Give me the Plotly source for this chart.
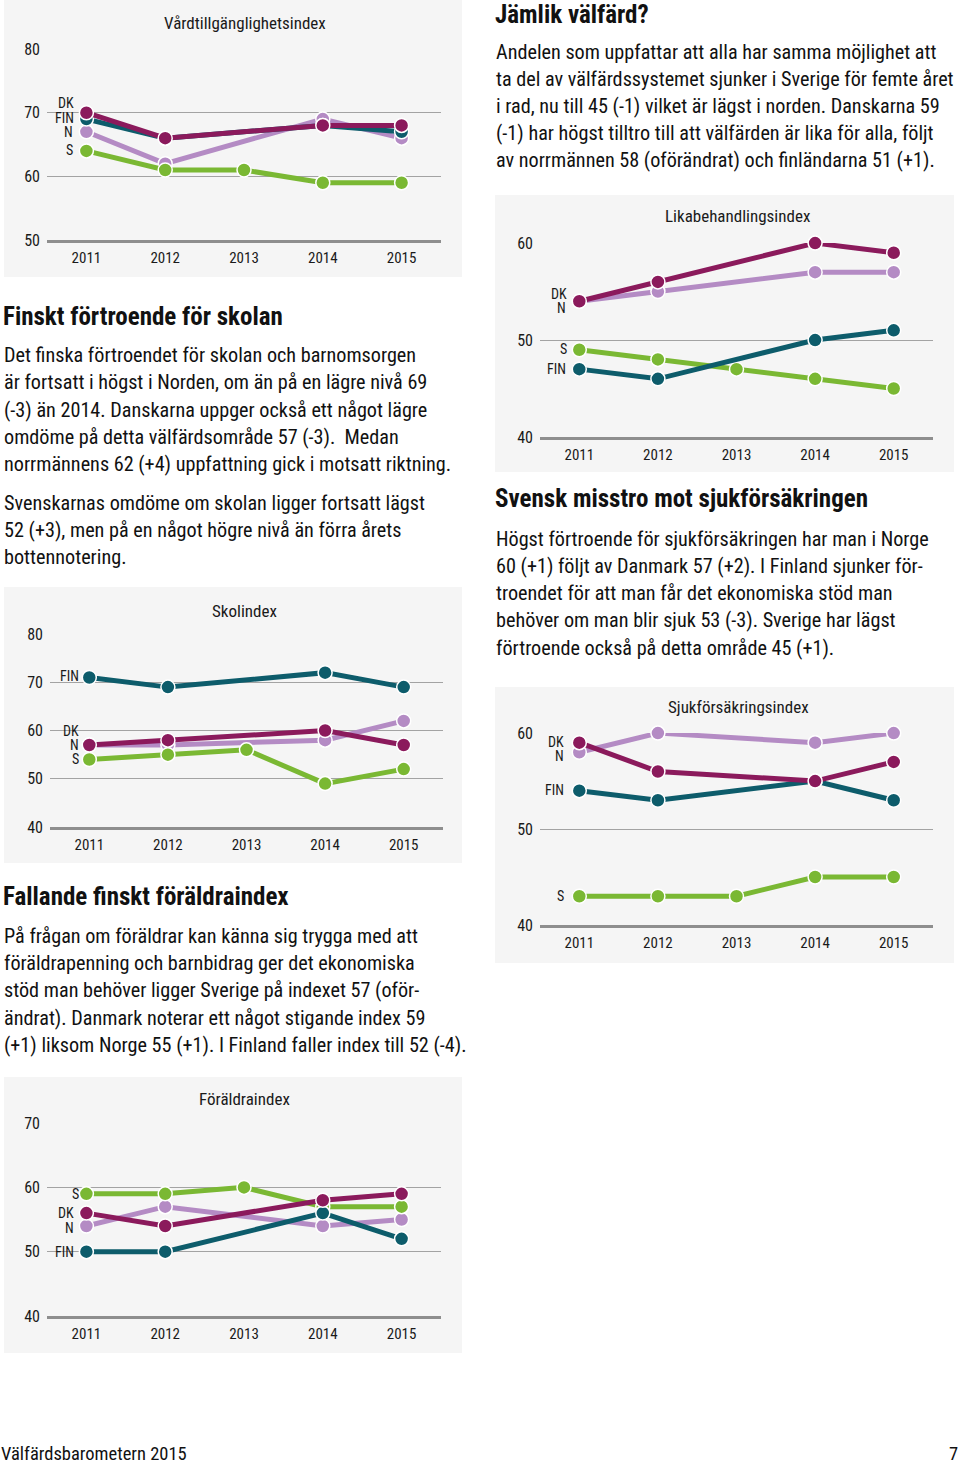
import plotly.graph_objects as go

W, H = 960, 1466
FONT = "Roboto Condensed, Liberation Sans Narrow, DejaVu Sans Condensed, Liberation Sans, sans-serif"

years = [2011, 2012, 2013, 2014, 2015]
countries = ["N", "S", "FIN", "DK"]
colors = {"DK": "#8b1a5c", "FIN": "#0d5c6b", "N": "#b48bc4", "S": "#7ab833"}

# Vårdtillgänglighetsindex
vard_DK = [70, 66, None, 68, 68]
vard_FIN = [69, 66, None, 68, 67]
vard_N = [67, 62, None, 69, 66]
vard_S = [64, 61, 61, 59, 59]
# Likabehandlingsindex
lika_DK = [54, 56, None, 60, 59]
lika_FIN = [47, 46, None, 50, 51]
lika_N = [54, 55, None, 57, 57]
lika_S = [49, 48, 47, 46, 45]
# Skolindex
skol_DK = [57, 58, None, 60, 57]
skol_FIN = [71, 69, None, 72, 69]
skol_N = [57, 57, None, 58, 62]
skol_S = [54, 55, 56, 49, 52]
# Sjukförsäkringsindex
sjuk_DK = [59, 56, None, 55, 57]
sjuk_FIN = [54, 53, None, 55, 53]
sjuk_N = [58, 60, None, 59, 60]
sjuk_S = [43, 43, 43, 45, 45]
# Föräldraindex
foral_DK = [56, 54, None, 58, 59]
foral_FIN = [50, 50, None, 56, 52]
foral_N = [54, 57, None, 54, 55]
foral_S = [59, 59, 60, 57, 57]

vard_ticks = [50, 60, 70, 80]
lika_ticks = [40, 50, 60]
skol_ticks = [40, 50, 60, 70, 80]
sjuk_ticks = [40, 50, 60]
foral_ticks = [40, 50, 60, 70]

charts = [
    dict(title="Vårdtillgänglighetsindex",
         data={"DK": vard_DK, "FIN": vard_FIN, "N": vard_N, "S": vard_S},
         ticks=vard_ticks, xdom=(47, 441), ydom=(49, 240), title_xy=(245, 23),
         panel=(4, 0, 462, 277),
         labels={"DK": (75, 103), "FIN": (75, 118), "N": (74, 132), "S": (74, 150)}),
    dict(title="Likabehandlingsindex",
         data={"DK": lika_DK, "FIN": lika_FIN, "N": lika_N, "S": lika_S},
         ticks=lika_ticks, xdom=(540, 933), ydom=(243, 437), title_xy=(737, 216),
         panel=(495, 195, 954, 472),
         labels={"DK": (568, 294), "N": (567, 308), "S": (568, 349), "FIN": (567, 369)}),
    dict(title="Skolindex",
         data={"DK": skol_DK, "FIN": skol_FIN, "N": skol_N, "S": skol_S},
         ticks=skol_ticks, xdom=(50, 443), ydom=(634, 827), title_xy=(245, 611),
         panel=(4, 587, 462, 863),
         labels={"FIN": (80, 676), "DK": (80, 731), "N": (80, 745), "S": (80, 759)}),
    dict(title="Sjukförsäkringsindex",
         data={"DK": sjuk_DK, "FIN": sjuk_FIN, "N": sjuk_N, "S": sjuk_S},
         ticks=sjuk_ticks, xdom=(540, 933), ydom=(733, 925), title_xy=(738, 707),
         panel=(495, 687, 954, 963),
         labels={"DK": (565, 742), "N": (565, 756), "FIN": (565, 790), "S": (565, 896)}),
    dict(title="Föräldraindex",
         data={"DK": foral_DK, "FIN": foral_FIN, "N": foral_N, "S": foral_S},
         ticks=foral_ticks, xdom=(47, 441), ydom=(1123, 1316), title_xy=(244, 1099),
         panel=(4, 1077, 462, 1353),
         labels={"S": (80, 1194), "DK": (75, 1213), "N": (75, 1228), "FIN": (75, 1252)}),
]

fig = go.Figure()
shapes = []
annotations = []


def px(x):
    return x / W


def py(y):
    return 1 - y / H


for i, c in enumerate(charts, start=1):
    xa = "x" if i == 1 else f"x{i}"
    ya = "y" if i == 1 else f"y{i}"
    for k in countries:
        fig.add_trace(go.Scatter(
            x=years, y=c["data"][k], xaxis=xa, yaxis=ya, mode="lines+markers",
            connectgaps=True, cliponaxis=False, showlegend=False, name=k,
            line=dict(color=colors[k], width=5),
            marker=dict(size=14, color=colors[k], line=dict(color="white", width=1.5)),
        ))
    x0, x1 = c["xdom"]
    y0, y1 = c["ydom"]
    lo, hi = min(c["ticks"]), max(c["ticks"])
    fig.layout[f"xaxis{'' if i == 1 else i}"] = dict(
        domain=[px(x0), px(x1)], anchor=ya, range=[2010.5, 2015.5],
        tickvals=years, ticktext=[str(y) for y in years], showgrid=False,
        zeroline=False, showline=True, linecolor="#8e8e8e", linewidth=3,
        ticks="", ticklabelstandoff=2, tickfont=dict(family=FONT, size=15, color="#1a1a1a"),
        fixedrange=True)
    fig.layout[f"yaxis{'' if i == 1 else i}"] = dict(
        domain=[py(y1), py(y0)], anchor=xa, range=[lo, hi + 0.01],
        tickvals=c["ticks"], showgrid=True, gridcolor="#a3a3a3", gridwidth=1,
        zeroline=False, showline=False, ticks="", ticklabelstandoff=6,
        tickfont=dict(family=FONT, size=16, color="#1a1a1a"), fixedrange=True)
    a, b, cc, d = c["panel"]
    shapes.append(dict(type="rect", xref="paper", yref="paper", x0=px(a), x1=px(cc),
                       y0=py(d), y1=py(b), fillcolor="#f5f5f5", line=dict(width=0),
                       layer="below"))
    tx, ty = c["title_xy"]
    annotations.append(dict(text=c["title"], x=px(tx), y=py(ty), xref="paper", yref="paper",
                            showarrow=False, xanchor="center", yanchor="middle",
                            font=dict(family=FONT, size=17, color="#1a1a1a")))
    for k, (lx, ly) in c["labels"].items():
        annotations.append(dict(text=k, x=px(lx), y=py(ly), xref="paper", yref="paper",
                                showarrow=False, xanchor="right", yanchor="middle",
                                borderpad=0,
                                font=dict(family=FONT, size=14, color="#1a1a1a")))

blocks = [
    dict(x=494, head=("Jämlik välfärd?", 14),
         lines=[("Andelen som uppfattar att alla har samma möjlighet att", 52),
                ("ta del av välfärdssystemet sjunker i Sverige för femte året", 79),
                ("i rad, nu till 45 (-1) vilket är lägst i norden. Danskarna 59", 106),
                ("(-1) har högst tilltro till att välfärden är lika för alla, följt", 133),
                ("av norrmännen 58 (oförändrat) och finländarna 51 (+1).", 160)]),
    dict(x=2, head=("Finskt förtroende för skolan", 316),
         lines=[("Det finska förtroendet för skolan och barnomsorgen", 355),
                ("är fortsatt i högst i Norden, om än på en lägre nivå 69", 382),
                ("(-3) än 2014. Danskarna uppger också ett något lägre", 410),
                ("omdöme på detta välfärdsområde 57 (-3).  Medan", 437),
                ("norrmännens 62 (+4) uppfattning gick i motsatt riktning.", 464),
                ("Svenskarnas omdöme om skolan ligger fortsatt lägst", 503),
                ("52 (+3), men på en något högre nivå än förra årets", 530),
                ("bottennotering.", 557)]),
    dict(x=494, head=("Svensk misstro mot sjukförsäkringen", 499),
         lines=[("Högst förtroende för sjukförsäkringen har man i Norge", 539),
                ("60 (+1) följt av Danmark 57 (+2). I Finland sjunker för-", 566),
                ("troendet för att man får det ekonomiska stöd man", 593),
                ("behöver om man blir sjuk 53 (-3). Sverige har lägst", 620),
                ("förtroende också på detta område 45 (+1).", 648)]),
    dict(x=2, head=("Fallande finskt föräldraindex", 896),
         lines=[("På frågan om föräldrar kan känna sig trygga med att", 936),
                ("föräldrapenning och barnbidrag ger det ekonomiska", 963),
                ("stöd man behöver ligger Sverige på indexet 57 (oför-", 990),
                ("ändrat). Danmark noterar ett något stigande index 59", 1018),
                ("(+1) liksom Norge 55 (+1). I Finland faller index till 52 (-4).", 1045)]),
]

for bl in blocks:
    t, y = bl["head"]
    annotations.append(dict(text=f"<b>{t}</b>", x=px(bl["x"]), y=py(y), xref="paper", yref="paper",
                            showarrow=False, xanchor="left", yanchor="middle", borderpad=0,
                            font=dict(family=FONT, size=25, color="#111111")))
    for t, y in bl["lines"]:
        annotations.append(dict(text=t, x=px(bl["x"]), y=py(y), xref="paper", yref="paper",
                                showarrow=False, xanchor="left", yanchor="middle",
                                font=dict(family=FONT, size=20.2, color="#111111")))

annotations.append(dict(text="Välfärdsbarometern 2015", x=px(0), y=py(1454), xref="paper", yref="paper",
                        showarrow=False, xanchor="left", yanchor="middle", borderpad=0,
                        font=dict(family=FONT, size=18.5, color="#111111")))
annotations.append(dict(text="7", x=px(959), y=py(1454), xref="paper", yref="paper",
                        showarrow=False, xanchor="right", yanchor="middle", borderpad=0,
                        font=dict(family=FONT, size=18.5, color="#111111")))

fig.update_layout(width=W, height=H, margin=dict(l=0, r=0, t=0, b=0, autoexpand=False),
                  paper_bgcolor="white", plot_bgcolor="rgba(0,0,0,0)",
                  shapes=shapes, annotations=annotations, showlegend=False,
                  font=dict(family=FONT))

fig.write_html("out.html", config={"displayModeBar": False},
               post_script="document.body.style.margin='0';document.body.style.overflow='hidden';")
